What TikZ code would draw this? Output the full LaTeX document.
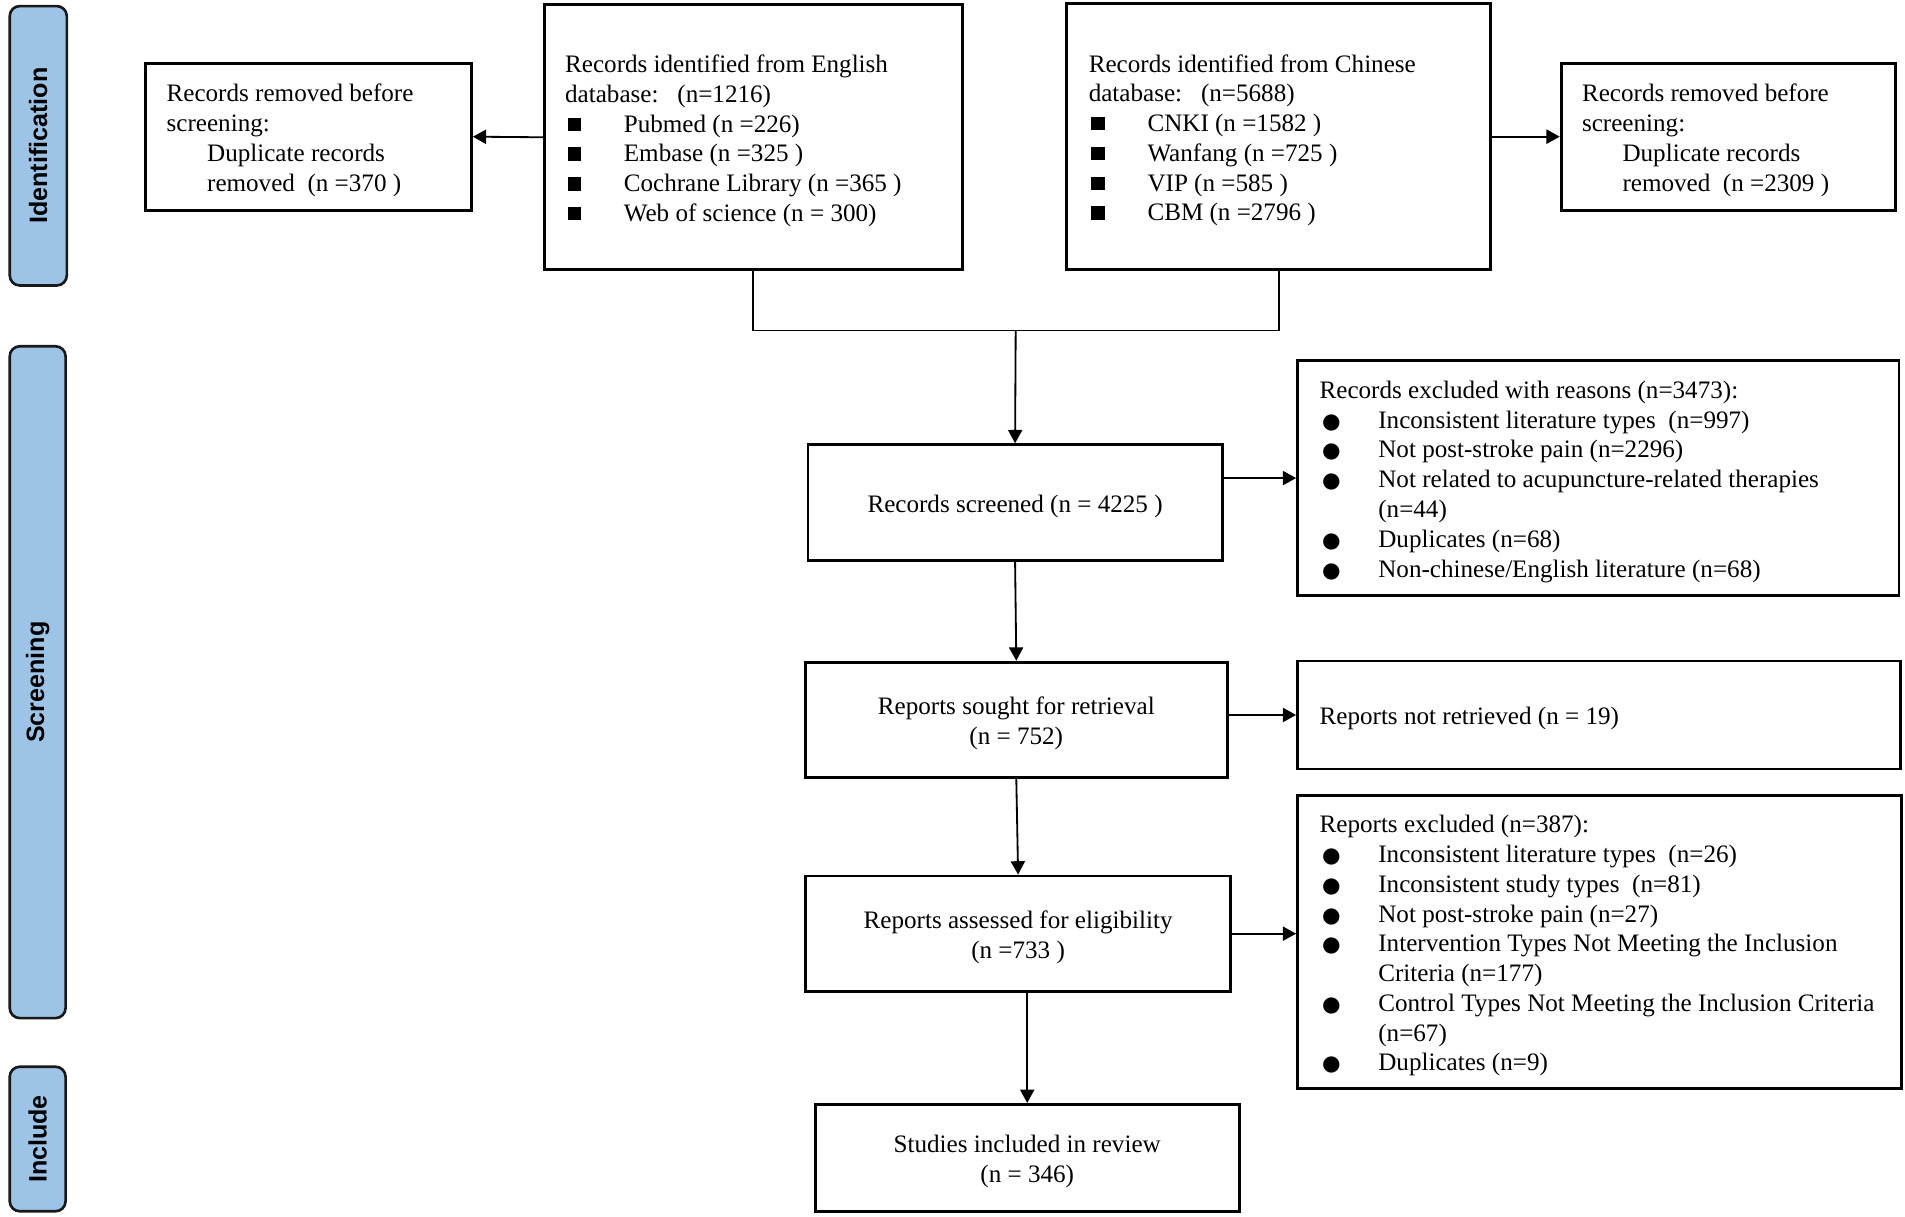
\documentclass[tikz,border=0pt]{standalone}
\usepackage{fontspec}
\setmainfont{Liberation Serif}
\newfontfamily\labfont{Liberation Sans}
\newfontfamily\symfont{DejaVu Sans}
\usetikzlibrary{arrows.meta}
\definecolor{phaseblue}{HTML}{9DC3E6}
\newcommand\sqb{\hspace*{1.2pt}\makebox[27.8pt][l]{\raisebox{0.6pt}{\rule{6.6pt}{6.6pt}}}}
\newcommand\cib{\hspace*{1.2pt}\makebox[27.8pt][l]{{\symfont\fontsize{10.5pt}{10.5pt}\selectfont ●}}}
\newcommand\ind{\hspace*{29pt}}
\begin{document}
\begin{tikzpicture}[x=0.6pt,y=-0.6pt,
  box/.style={draw=black, line width=1.4pt, rectangle, inner sep=0pt},
  txt/.style={align=left, inner sep=0pt, font=\fontsize{12.4pt}{14.7pt}\selectfont},
  ctxt/.style={align=center, inner sep=0pt, font=\fontsize{12.4pt}{14.7pt}\selectfont},
  phase/.style={draw=black!90, line width=1.3pt, fill=phaseblue, rounded corners=5pt, rotate=90, inner sep=0pt, font=\labfont\bfseries\fontsize{12.4pt}{14pt}\selectfont},
  arr/.style={line width=0.9pt, -{Triangle[length=6.6pt,width=7pt]}},
  conn/.style={line width=0.9pt}]
\useasboundingbox (0,0) rectangle (1568,1001);

% phase labels
\node[phase, minimum width=138pt, minimum height=28.2pt] (idl) at (31.5,120) {Identification};
\node[phase, minimum width=331.8pt, minimum height=27.6pt] (scl) at (31,561.5) {Screening};
\node[phase, minimum width=71.4pt, minimum height=27.6pt] (inl) at (31,937.5) {Include};

% identification boxes
\node[box, minimum width=160.8pt, minimum height=72.6pt] (remL) at (254,112.5) {};
\node[txt, anchor=west] (remLT) at ([xshift=10.8pt,yshift=-1.8pt]remL.west) {Records removed before\\screening:\\\hspace*{20pt}Duplicate records\\\hspace*{20pt}removed\ \ (n =370 )};

\node[box, minimum width=206.4pt, minimum height=130.8pt] (eng) at (620,113) {};
\node[txt, anchor=west] (engT) at ([xshift=10.8pt,yshift=-1.8pt]eng.west) {Records identified from English\\database:\ \ \ (n=1216)\\\sqb Pubmed (n =226)\\\sqb Embase (n =325 )\\\sqb Cochrane Library (n =365 )\\\sqb Web of science (n = 300)};

\node[box, minimum width=209.4pt, minimum height=131.4pt] (chn) at (1052.5,112.5) {};
\node[txt, anchor=west] (chnT) at ([xshift=11.4pt,yshift=-1.8pt]chn.west) {Records identified from Chinese\\database:\ \ \ (n=5688)\\\sqb CNKI (n =1582 )\\\sqb Wanfang (n =725 )\\\sqb VIP (n =585 )\\\sqb CBM (n =2796 )};

\node[box, minimum width=165pt, minimum height=72.6pt] (remR) at (1422.5,112.5) {};
\node[txt, anchor=west] (remRT) at ([xshift=10.8pt,yshift=-1.8pt]remR.west) {Records removed before\\screening:\\\hspace*{20pt}Duplicate records\\\hspace*{20pt}removed\ \ (n =2309 )};

% screening boxes
\node[box, minimum width=204.6pt, minimum height=57pt] (scr) at (835.5,413.5) {};
\node[ctxt] (scrT) at ([yshift=-1.8pt]scr.center) {Records screened (n = 4225 )};

\node[box, minimum width=297pt, minimum height=115.8pt] (exc1) at (1315.5,393.5) {};
\node[txt, anchor=west] (exc1T) at ([xshift=11.4pt,yshift=-1.8pt]exc1.west) {Records excluded with reasons (n=3473):\\\cib Inconsistent literature types\ \ (n=997)\\\cib Not post-stroke pain (n=2296)\\\cib Not related to acupuncture-related therapies\\\ind (n=44)\\\cib Duplicates (n=68)\\\cib Non-chinese/English literature (n=68)};

\node[box, minimum width=208.2pt, minimum height=57pt] (sought) at (836.5,592.5) {};
\node[ctxt] (soughtT) at ([yshift=-1.8pt]sought.center) {Reports sought for retrieval\\(n = 752)};

\node[box, minimum width=297.6pt, minimum height=53.4pt] (notret) at (1316,588.5) {};
\node[txt, anchor=west] (notretT) at ([xshift=11.4pt,yshift=-1.8pt]notret.west) {Reports not retrieved (n = 19)};

\node[box, minimum width=210pt, minimum height=57pt] (assess) at (838,768.5) {};
\node[ctxt] (assessT) at ([yshift=-1.8pt]assess.center) {Reports assessed for eligibility\\(n =733 )};

\node[box, minimum width=298.2pt, minimum height=144.6pt] (exc2) at (1316.5,775.5) {};
\node[txt, anchor=west] (exc2T) at ([xshift=11.4pt,yshift=-1.8pt]exc2.west) {Reports excluded (n=387):\\\cib Inconsistent literature types\ \ (n=26)\\\cib Inconsistent study types\ \ (n=81)\\\cib Not post-stroke pain (n=27)\\\cib Intervention Types Not Meeting the Inclusion\\\ind Criteria (n=177)\\\cib Control Types Not Meeting the Inclusion Criteria\\\ind (n=67)\\\cib Duplicates (n=9)};

% include
\node[box, minimum width=209.4pt, minimum height=52.8pt] (incl) at (845.5,953) {};
\node[ctxt] (inclT) at ([yshift=-1.8pt]incl.center) {Studies included in review\\(n = 346)};

% connectors
\draw[arr] (eng.west) -- (remL.east);
\draw[arr] (chn.east) -- (remR.west);
\coordinate (mrg) at (836,272);
\draw[conn] (eng.south) |- (mrg) -| (chn.south);
\draw[arr] (mrg) -- (scr.north);
\draw[arr] (scr.east |- exc1.west) -- (exc1.west);
\draw[arr] (scr.south) -- (sought.north);
\draw[arr] (sought.east |- notret.west) -- (notret.west);
\draw[arr] (sought.south) -- (assess.north);
\draw[arr] (assess.east) -- (assess.east -| exc2.west);
\draw[arr] (assess.south -| incl.north) -- (incl.north);
\end{tikzpicture}
\end{document}
